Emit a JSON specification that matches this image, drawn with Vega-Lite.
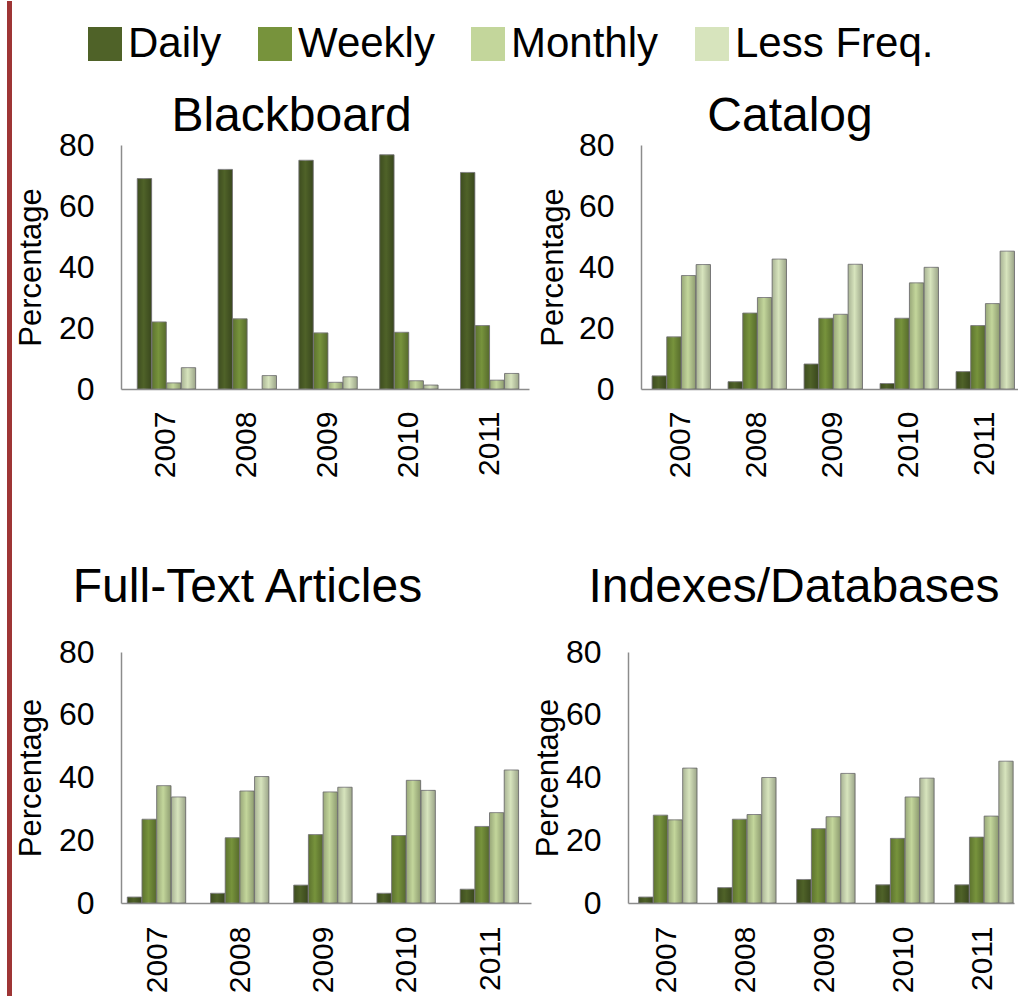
{
  "$schema": "https://vega.github.io/schema/vega-lite/v6.json",
  "padding": {"left": 6, "top": 0, "right": 0, "bottom": 0},
  "background": "white",
  "datasets": {
    "usage": [
      {"panel": "Blackboard", "year": "2007", "freq": "Daily", "pct": 69},
      {"panel": "Blackboard", "year": "2007", "freq": "Weekly", "pct": 22},
      {"panel": "Blackboard", "year": "2007", "freq": "Monthly", "pct": 2},
      {"panel": "Blackboard", "year": "2007", "freq": "Less Freq.", "pct": 7},
      {"panel": "Blackboard", "year": "2008", "freq": "Daily", "pct": 72},
      {"panel": "Blackboard", "year": "2008", "freq": "Weekly", "pct": 23},
      {"panel": "Blackboard", "year": "2008", "freq": "Less Freq.", "pct": 4.4},
      {"panel": "Blackboard", "year": "2009", "freq": "Daily", "pct": 75},
      {"panel": "Blackboard", "year": "2009", "freq": "Weekly", "pct": 18.4},
      {"panel": "Blackboard", "year": "2009", "freq": "Monthly", "pct": 2.2},
      {"panel": "Blackboard", "year": "2009", "freq": "Less Freq.", "pct": 4},
      {"panel": "Blackboard", "year": "2010", "freq": "Daily", "pct": 76.8},
      {"panel": "Blackboard", "year": "2010", "freq": "Weekly", "pct": 18.6},
      {"panel": "Blackboard", "year": "2010", "freq": "Monthly", "pct": 2.7},
      {"panel": "Blackboard", "year": "2010", "freq": "Less Freq.", "pct": 1.3},
      {"panel": "Blackboard", "year": "2011", "freq": "Daily", "pct": 71},
      {"panel": "Blackboard", "year": "2011", "freq": "Weekly", "pct": 20.8},
      {"panel": "Blackboard", "year": "2011", "freq": "Monthly", "pct": 2.9},
      {"panel": "Blackboard", "year": "2011", "freq": "Less Freq.", "pct": 5.1},
      {"panel": "Catalog", "year": "2007", "freq": "Daily", "pct": 4.3},
      {"panel": "Catalog", "year": "2007", "freq": "Weekly", "pct": 17.1},
      {"panel": "Catalog", "year": "2007", "freq": "Monthly", "pct": 37.2},
      {"panel": "Catalog", "year": "2007", "freq": "Less Freq.", "pct": 40.8},
      {"panel": "Catalog", "year": "2008", "freq": "Daily", "pct": 2.4},
      {"panel": "Catalog", "year": "2008", "freq": "Weekly", "pct": 24.9},
      {"panel": "Catalog", "year": "2008", "freq": "Monthly", "pct": 30},
      {"panel": "Catalog", "year": "2008", "freq": "Less Freq.", "pct": 42.6},
      {"panel": "Catalog", "year": "2009", "freq": "Daily", "pct": 8.2},
      {"panel": "Catalog", "year": "2009", "freq": "Weekly", "pct": 23.2},
      {"panel": "Catalog", "year": "2009", "freq": "Monthly", "pct": 24.5},
      {"panel": "Catalog", "year": "2009", "freq": "Less Freq.", "pct": 40.9},
      {"panel": "Catalog", "year": "2010", "freq": "Daily", "pct": 1.8},
      {"panel": "Catalog", "year": "2010", "freq": "Weekly", "pct": 23.2},
      {"panel": "Catalog", "year": "2010", "freq": "Monthly", "pct": 34.8},
      {"panel": "Catalog", "year": "2010", "freq": "Less Freq.", "pct": 39.9},
      {"panel": "Catalog", "year": "2011", "freq": "Daily", "pct": 5.7},
      {"panel": "Catalog", "year": "2011", "freq": "Weekly", "pct": 20.8},
      {"panel": "Catalog", "year": "2011", "freq": "Monthly", "pct": 28},
      {"panel": "Catalog", "year": "2011", "freq": "Less Freq.", "pct": 45.2},
      {"panel": "Full-Text Articles", "year": "2007", "freq": "Daily", "pct": 1.9},
      {"panel": "Full-Text Articles", "year": "2007", "freq": "Weekly", "pct": 26.7},
      {"panel": "Full-Text Articles", "year": "2007", "freq": "Monthly", "pct": 37.4},
      {"panel": "Full-Text Articles", "year": "2007", "freq": "Less Freq.", "pct": 33.8},
      {"panel": "Full-Text Articles", "year": "2008", "freq": "Daily", "pct": 3.1},
      {"panel": "Full-Text Articles", "year": "2008", "freq": "Weekly", "pct": 20.8},
      {"panel": "Full-Text Articles", "year": "2008", "freq": "Monthly", "pct": 35.7},
      {"panel": "Full-Text Articles", "year": "2008", "freq": "Less Freq.", "pct": 40.3},
      {"panel": "Full-Text Articles", "year": "2009", "freq": "Daily", "pct": 5.7},
      {"panel": "Full-Text Articles", "year": "2009", "freq": "Weekly", "pct": 21.8},
      {"panel": "Full-Text Articles", "year": "2009", "freq": "Monthly", "pct": 35.4},
      {"panel": "Full-Text Articles", "year": "2009", "freq": "Less Freq.", "pct": 36.9},
      {"panel": "Full-Text Articles", "year": "2010", "freq": "Daily", "pct": 3.1},
      {"panel": "Full-Text Articles", "year": "2010", "freq": "Weekly", "pct": 21.5},
      {"panel": "Full-Text Articles", "year": "2010", "freq": "Monthly", "pct": 39.1},
      {"panel": "Full-Text Articles", "year": "2010", "freq": "Less Freq.", "pct": 35.9},
      {"panel": "Full-Text Articles", "year": "2011", "freq": "Daily", "pct": 4.4},
      {"panel": "Full-Text Articles", "year": "2011", "freq": "Weekly", "pct": 24.4},
      {"panel": "Full-Text Articles", "year": "2011", "freq": "Monthly", "pct": 28.8},
      {"panel": "Full-Text Articles", "year": "2011", "freq": "Less Freq.", "pct": 42.4},
      {"panel": "Indexes/Databases", "year": "2007", "freq": "Daily", "pct": 1.9},
      {"panel": "Indexes/Databases", "year": "2007", "freq": "Weekly", "pct": 28},
      {"panel": "Indexes/Databases", "year": "2007", "freq": "Monthly", "pct": 26.5},
      {"panel": "Indexes/Databases", "year": "2007", "freq": "Less Freq.", "pct": 43},
      {"panel": "Indexes/Databases", "year": "2008", "freq": "Daily", "pct": 4.9},
      {"panel": "Indexes/Databases", "year": "2008", "freq": "Weekly", "pct": 26.7},
      {"panel": "Indexes/Databases", "year": "2008", "freq": "Monthly", "pct": 28.2},
      {"panel": "Indexes/Databases", "year": "2008", "freq": "Less Freq.", "pct": 40},
      {"panel": "Indexes/Databases", "year": "2009", "freq": "Daily", "pct": 7.5},
      {"panel": "Indexes/Databases", "year": "2009", "freq": "Weekly", "pct": 23.7},
      {"panel": "Indexes/Databases", "year": "2009", "freq": "Monthly", "pct": 27.5},
      {"panel": "Indexes/Databases", "year": "2009", "freq": "Less Freq.", "pct": 41.3},
      {"panel": "Indexes/Databases", "year": "2010", "freq": "Daily", "pct": 5.8},
      {"panel": "Indexes/Databases", "year": "2010", "freq": "Weekly", "pct": 20.6},
      {"panel": "Indexes/Databases", "year": "2010", "freq": "Monthly", "pct": 33.8},
      {"panel": "Indexes/Databases", "year": "2010", "freq": "Less Freq.", "pct": 39.8},
      {"panel": "Indexes/Databases", "year": "2011", "freq": "Daily", "pct": 5.8},
      {"panel": "Indexes/Databases", "year": "2011", "freq": "Weekly", "pct": 21},
      {"panel": "Indexes/Databases", "year": "2011", "freq": "Monthly", "pct": 27.7},
      {"panel": "Indexes/Databases", "year": "2011", "freq": "Less Freq.", "pct": 45.2}
    ],
    "blank": [{"k": 1}]
  },
  "spacing": 2,
  "hconcat": [
    {
      "data": {"name": "blank"},
      "width": 5,
      "height": 996,
      "view": {"fill": "#9E3535", "stroke": null},
      "mark": {"type": "point", "opacity": 0},
      "encoding": {}
    },
    {
      "columns": 1,
      "align": "none",
      "spacing": 86,
      "concat": [
        {
          "data": {"name": "blank"},
          "width": 1,
          "height": 5,
          "mark": {"type": "point", "opacity": 0},
          "encoding": {}
        },
        {
          "spacing": 8,
          "hconcat": [
            {
              "data": {"name": "usage"},
              "transform": [{"filter": "datum.panel == 'Blackboard'"}],
              "width": 408,
              "height": 244,
              "title": {"text": "Blackboard", "dx": -33.5, "offset": -12},
              "encoding": {
                "x": {"field": "year", "type": "nominal", "scale": {"paddingInner": 0.277, "paddingOuter": 0.163, "align": 0.617}, "axis": {"title": null, "labelAngle": -90, "labelPadding": 22, "labelFontSize": 30}},
                "xOffset": {"field": "freq", "type": "nominal", "scale": {"domain": ["Daily", "Weekly", "Monthly", "Less Freq."], "paddingInner": 0.02}},
                "y": {"field": "pct", "type": "quantitative", "scale": {"domain": [0, 80], "nice": false}, "axis": {"title": "Percentage", "values": [0, 20, 40, 60, 80], "labelPadding": 27, "titlePadding": 11}}
              },
              "layer": [
                {
                  "mark": {"type": "bar", "stroke": "#8a8a8a", "strokeWidth": 1},
                  "encoding": {
                    "color": {"field": "freq", "type": "nominal", "scale": {"domain": ["Daily", "Weekly", "Monthly", "Less Freq."], "range": ["#4F6228", "#77933C", "#C3D69B", "#D7E4BD"]}, "legend": {"orient": "none", "legendX": 77, "legendY": 22, "direction": "horizontal", "title": null}}
                  }
                },
                {
                  "mark": {"type": "bar", "strokeWidth": 0, "fill": {"gradient": "linear", "x1": 0, "y1": 0, "x2": 1, "y2": 0, "stops": [{"offset": 0, "color": "rgba(0,0,0,0.22)"}, {"offset": 0.45, "color": "rgba(0,0,0,0)"}, {"offset": 1, "color": "rgba(0,0,0,0.28)"}]}},
                  "encoding": {}
                }
              ]
            },
            {
              "data": {"name": "usage"},
              "transform": [{"filter": "datum.panel == 'Catalog'"}],
              "width": 378,
              "height": 244,
              "title": {"text": "Catalog", "dx": -40, "offset": -12},
              "encoding": {
                "x": {"field": "year", "type": "nominal", "scale": {"paddingInner": 0.25, "paddingOuter": 0.112, "align": 0.65}, "axis": {"title": null, "labelAngle": -90, "labelPadding": 22, "labelFontSize": 30}},
                "xOffset": {"field": "freq", "type": "nominal", "scale": {"domain": ["Daily", "Weekly", "Monthly", "Less Freq."], "paddingInner": 0.02}},
                "y": {"field": "pct", "type": "quantitative", "scale": {"domain": [0, 80], "nice": false}, "axis": {"title": "Percentage", "values": [0, 20, 40, 60, 80], "labelPadding": 27, "titlePadding": 9}}
              },
              "layer": [
                {
                  "mark": {"type": "bar", "stroke": "#8a8a8a", "strokeWidth": 1},
                  "encoding": {
                    "color": {"field": "freq", "type": "nominal", "scale": {"domain": ["Daily", "Weekly", "Monthly", "Less Freq."], "range": ["#4F6228", "#77933C", "#C3D69B", "#D7E4BD"]}, "legend": {"orient": "none", "legendX": 77, "legendY": 22, "direction": "horizontal", "title": null}}
                  }
                },
                {
                  "mark": {"type": "bar", "strokeWidth": 0, "fill": {"gradient": "linear", "x1": 0, "y1": 0, "x2": 1, "y2": 0, "stops": [{"offset": 0, "color": "rgba(0,0,0,0.22)"}, {"offset": 0.45, "color": "rgba(0,0,0,0)"}, {"offset": 1, "color": "rgba(0,0,0,0.28)"}]}},
                  "encoding": {}
                }
              ]
            }
          ]
        },
        {
          "spacing": 1,
          "hconcat": [
            {
              "data": {"name": "usage"},
              "transform": [{"filter": "datum.panel == 'Full-Text Articles'"}],
              "width": 410,
              "height": 251,
              "title": {"text": "Full-Text Articles", "dx": -78.5, "offset": 24},
              "encoding": {
                "x": {"field": "year", "type": "nominal", "scale": {"paddingInner": 0.267, "paddingOuter": 0.097, "align": 0.39}, "axis": {"title": null, "labelAngle": -90, "labelPadding": 23, "labelFontSize": 30}},
                "xOffset": {"field": "freq", "type": "nominal", "scale": {"domain": ["Daily", "Weekly", "Monthly", "Less Freq."], "paddingInner": 0.02}},
                "y": {"field": "pct", "type": "quantitative", "scale": {"domain": [0, 80], "nice": false}, "axis": {"title": "Percentage", "values": [0, 20, 40, 60, 80], "labelPadding": 27, "titlePadding": 11}}
              },
              "layer": [
                {
                  "mark": {"type": "bar", "stroke": "#8a8a8a", "strokeWidth": 1},
                  "encoding": {
                    "color": {"field": "freq", "type": "nominal", "scale": {"domain": ["Daily", "Weekly", "Monthly", "Less Freq."], "range": ["#4F6228", "#77933C", "#C3D69B", "#D7E4BD"]}, "legend": {"orient": "none", "legendX": 77, "legendY": 22, "direction": "horizontal", "title": null}}
                  }
                },
                {
                  "mark": {"type": "bar", "strokeWidth": 0, "fill": {"gradient": "linear", "x1": 0, "y1": 0, "x2": 1, "y2": 0, "stops": [{"offset": 0, "color": "rgba(0,0,0,0.22)"}, {"offset": 0.45, "color": "rgba(0,0,0,0)"}, {"offset": 1, "color": "rgba(0,0,0,0.28)"}]}},
                  "encoding": {}
                }
              ]
            },
            {
              "data": {"name": "usage"},
              "transform": [{"filter": "datum.panel == 'Indexes/Databases'"}],
              "width": 386,
              "height": 251,
              "title": {"text": "Indexes/Databases", "dx": -27, "offset": 24},
              "encoding": {
                "x": {"field": "year", "type": "nominal", "scale": {"paddingInner": 0.28, "paddingOuter": 0.082, "align": 0.82}, "axis": {"title": null, "labelAngle": -90, "labelPadding": 23, "labelFontSize": 30}},
                "xOffset": {"field": "freq", "type": "nominal", "scale": {"domain": ["Daily", "Weekly", "Monthly", "Less Freq."], "paddingInner": 0.02}},
                "y": {"field": "pct", "type": "quantitative", "scale": {"domain": [0, 80], "nice": false}, "axis": {"title": "Percentage", "values": [0, 20, 40, 60, 80], "labelPadding": 27, "titlePadding": 1}}
              },
              "layer": [
                {
                  "mark": {"type": "bar", "stroke": "#8a8a8a", "strokeWidth": 1},
                  "encoding": {
                    "color": {"field": "freq", "type": "nominal", "scale": {"domain": ["Daily", "Weekly", "Monthly", "Less Freq."], "range": ["#4F6228", "#77933C", "#C3D69B", "#D7E4BD"]}, "legend": {"orient": "none", "legendX": 77, "legendY": 22, "direction": "horizontal", "title": null}}
                  }
                },
                {
                  "mark": {"type": "bar", "strokeWidth": 0, "fill": {"gradient": "linear", "x1": 0, "y1": 0, "x2": 1, "y2": 0, "stops": [{"offset": 0, "color": "rgba(0,0,0,0.22)"}, {"offset": 0.45, "color": "rgba(0,0,0,0)"}, {"offset": 1, "color": "rgba(0,0,0,0.28)"}]}},
                  "encoding": {}
                }
              ]
            }
          ]
        }
      ]
    }
  ],
  "config": {
    "font": "Liberation Sans",
    "view": {"stroke": null},
    "axis": {
      "labelFont": "Liberation Sans",
      "labelFontSize": 32,
      "labelColor": "#000000",
      "titleFont": "Liberation Sans",
      "titleFontSize": 31,
      "titleFontWeight": "normal",
      "titleColor": "#000000",
      "domainColor": "#8c8c8c",
      "domainWidth": 1.5,
      "ticks": false,
      "tickSize": 0,
      "grid": false
    },
    "title": {"font": "Liberation Sans", "fontSize": 48, "fontWeight": "normal", "color": "#000000", "anchor": "middle"},
    "legend": {
      "symbolType": "square",
      "symbolSize": 1156,
      "symbolStrokeWidth": 0,
      "labelFont": "Liberation Sans",
      "labelFontSize": 42,
      "labelColor": "#000000",
      "labelOffset": 2,
      "columnPadding": 32,
      "labelLimit": 400
    }
  }
}
